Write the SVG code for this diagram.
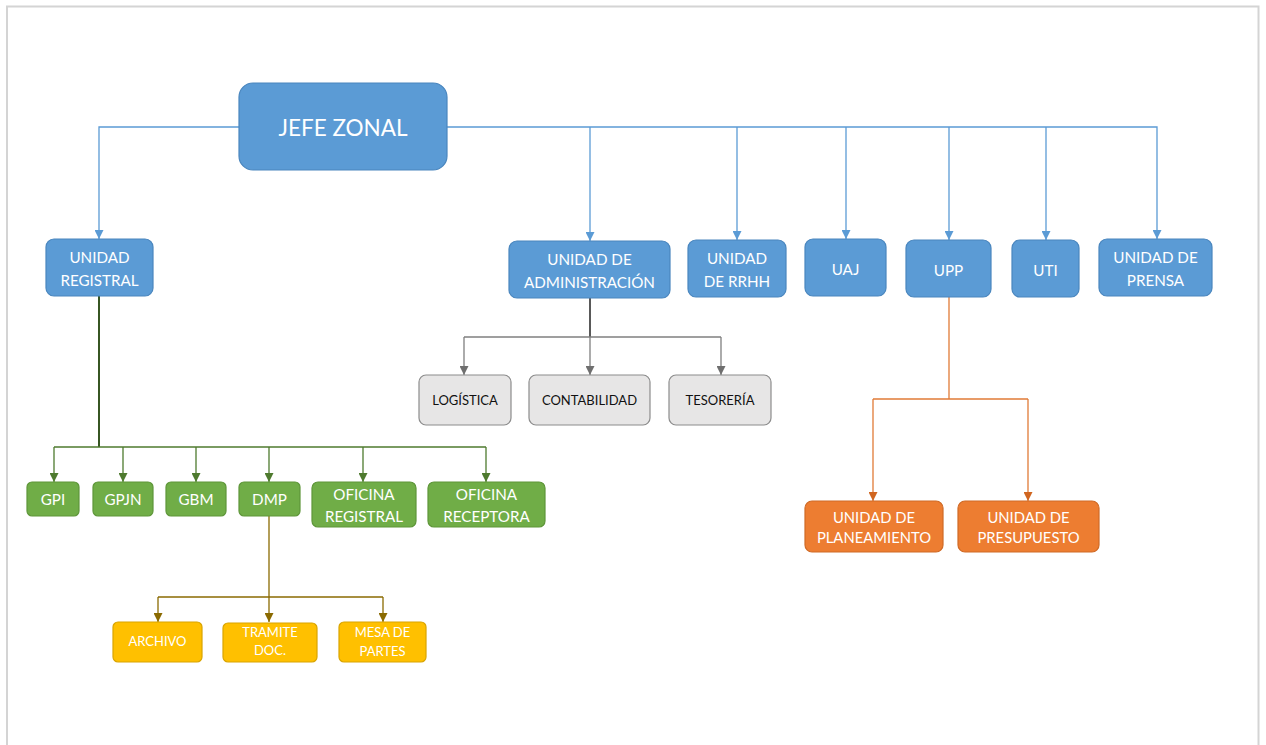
<svg xmlns="http://www.w3.org/2000/svg" width="1266" height="745" viewBox="0 0 1266 745">
<style>
text{font-family:Lato,"Open Sans","Liberation Sans",sans-serif;text-anchor:middle}
.blue{fill:#5B9BD5;stroke:#4A86BE;stroke-width:1.2}
.green{fill:#70AD47;stroke:#5E9639;stroke-width:1.2}
.yellow{fill:#FFC000;stroke:#D9A400;stroke-width:1.2}
.orange{fill:#ED7D31;stroke:#CF6A26;stroke-width:1.2}
.grey{fill:#E7E6E6;stroke:#8C8C8C;stroke-width:1.2}
.tw{fill:#FFFFFF;font-size:15.2px}
.tb{fill:#111111;font-size:13px}
.ty{fill:#FFFFFF;font-size:13px}
.to{fill:#FFFFFF;font-size:14.8px}
.c{fill:none;stroke-width:1.3}
.cb{stroke:#5B9BD5}
.cg{stroke:#4E7A2E}
.cgt{stroke:#375623;stroke-width:2}
.cy{stroke:#8A6A00}
.cgr{stroke:#7F7F7F}
.cgrt{stroke:#595959;stroke-width:2}
.co{stroke:#E07A36}
</style>
<defs>
<marker id="ab" viewBox="0 0 10 10" refX="10" refY="5" markerWidth="9" markerHeight="9" markerUnits="userSpaceOnUse" orient="auto"><path d="M0,0 L10,5 L0,10 z" fill="#5B9BD5"/></marker>
<marker id="ag" viewBox="0 0 10 10" refX="10" refY="5" markerWidth="9" markerHeight="9" markerUnits="userSpaceOnUse" orient="auto"><path d="M0,0 L10,5 L0,10 z" fill="#4E7A2E"/></marker>
<marker id="ay" viewBox="0 0 10 10" refX="10" refY="5" markerWidth="9" markerHeight="9" markerUnits="userSpaceOnUse" orient="auto"><path d="M0,0 L10,5 L0,10 z" fill="#8A6A00"/></marker>
<marker id="agr" viewBox="0 0 10 10" refX="10" refY="5" markerWidth="9" markerHeight="9" markerUnits="userSpaceOnUse" orient="auto"><path d="M0,0 L10,5 L0,10 z" fill="#6F6F6F"/></marker>
<marker id="ao" viewBox="0 0 10 10" refX="10" refY="5" markerWidth="9" markerHeight="9" markerUnits="userSpaceOnUse" orient="auto"><path d="M0,0 L10,5 L0,10 z" fill="#D0651F"/></marker>
</defs>
<rect x="0" y="0" width="1266" height="745" fill="#FFFFFF"/>
<rect x="7" y="6.5" width="1251.5" height="745" fill="none" stroke="#D4D4D4" stroke-width="2"/>

<g id="connectors">
<path class="c cb" d="M239,127 H99 V239" marker-end="url(#ab)"/>
<path class="c cb" d="M447,127 H1157 V239" marker-end="url(#ab)"/>
<path class="c cb" d="M590,127 V241" marker-end="url(#ab)"/>
<path class="c cb" d="M737,127 V240" marker-end="url(#ab)"/>
<path class="c cb" d="M846,127 V239" marker-end="url(#ab)"/>
<path class="c cb" d="M949,127 V240" marker-end="url(#ab)"/>
<path class="c cb" d="M1046,127 V240" marker-end="url(#ab)"/>

<path class="c cgt" d="M99,296 V447"/>
<path class="c cg" d="M54,447 H486"/>
<path class="c cg" d="M54,447 V482" marker-end="url(#ag)"/>
<path class="c cg" d="M123,447 V482" marker-end="url(#ag)"/>
<path class="c cg" d="M196,447 V482" marker-end="url(#ag)"/>
<path class="c cg" d="M269,447 V482" marker-end="url(#ag)"/>
<path class="c cg" d="M363,447 V482" marker-end="url(#ag)"/>
<path class="c cg" d="M486,447 V482" marker-end="url(#ag)"/>

<path class="c cy" d="M269,516 V622" marker-end="url(#ay)"/>
<path class="c cy" d="M158,597 H383"/>
<path class="c cy" d="M158,597 V622" marker-end="url(#ay)"/>
<path class="c cy" d="M383,597 V622" marker-end="url(#ay)"/>

<path class="c cgrt" d="M590,298 V337"/>
<path class="c cgr" d="M590,337 V375" marker-end="url(#agr)"/>
<path class="c cgr" d="M464,337 H721"/>
<path class="c cgr" d="M464,337 V375" marker-end="url(#agr)"/>
<path class="c cgr" d="M721,337 V375" marker-end="url(#agr)"/>

<path class="c co" d="M949,297 V399"/>
<path class="c co" d="M873,399 H1028"/>
<path class="c co" d="M873,399 V501" marker-end="url(#ao)"/>
<path class="c co" d="M1028,399 V501" marker-end="url(#ao)"/>
</g>

<g id="jefe-zonal"><rect class="blue" x="239" y="83" width="208" height="87" rx="14"/><text class="tw" x="343" y="136" style="font-size:22.5px">JEFE ZONAL</text></g>

<g id="unidad-registral"><rect class="blue" x="46" y="239" width="107" height="57" rx="8"/><text class="tw" x="99.5" y="263">UNIDAD</text><text class="tw" x="99.5" y="286">REGISTRAL</text></g>
<g id="unidad-administracion"><rect class="blue" x="509" y="241" width="161" height="57" rx="8"/><text class="tw" x="589.5" y="265">UNIDAD DE</text><text class="tw" x="589.5" y="288">ADMINISTRACIÓN</text></g>
<g id="unidad-rrhh"><rect class="blue" x="688" y="240" width="98" height="57" rx="8"/><text class="tw" x="737" y="264">UNIDAD</text><text class="tw" x="737" y="287">DE RRHH</text></g>
<g id="uaj"><rect class="blue" x="805" y="239" width="81" height="57" rx="8"/><text class="tw" x="845.5" y="275">UAJ</text></g>
<g id="upp"><rect class="blue" x="906" y="240" width="85" height="57" rx="8"/><text class="tw" x="948.5" y="276">UPP</text></g>
<g id="uti"><rect class="blue" x="1012" y="240" width="67" height="57" rx="8"/><text class="tw" x="1045.5" y="276">UTI</text></g>
<g id="unidad-prensa"><rect class="blue" x="1099" y="239" width="113" height="57" rx="8"/><text class="tw" x="1155.5" y="263">UNIDAD DE</text><text class="tw" x="1155.5" y="286">PRENSA</text></g>

<g id="logistica"><rect class="grey" x="419" y="375" width="92" height="50" rx="7"/><text class="tb" x="465" y="405">LOGÍSTICA</text></g>
<g id="contabilidad"><rect class="grey" x="529" y="375" width="121" height="50" rx="7"/><text class="tb" x="589.5" y="405">CONTABILIDAD</text></g>
<g id="tesoreria"><rect class="grey" x="669" y="375" width="102" height="50" rx="7"/><text class="tb" x="720" y="405">TESORERÍA</text></g>

<g id="gpi"><rect class="green" x="27" y="482" width="52" height="34" rx="5"/><text class="tw" x="53" y="505">GPI</text></g>
<g id="gpjn"><rect class="green" x="93" y="482" width="60" height="34" rx="5"/><text class="tw" x="123" y="505">GPJN</text></g>
<g id="gbm"><rect class="green" x="166" y="482" width="60" height="34" rx="5"/><text class="tw" x="196" y="505">GBM</text></g>
<g id="dmp"><rect class="green" x="239" y="482" width="61" height="34" rx="5"/><text class="tw" x="269.5" y="505">DMP</text></g>
<g id="oficina-registral"><rect class="green" x="312" y="482" width="104" height="45" rx="6"/><text class="tw" x="364" y="500">OFICINA</text><text class="tw" x="364" y="522">REGISTRAL</text></g>
<g id="oficina-receptora"><rect class="green" x="428" y="482" width="117" height="45" rx="6"/><text class="tw" x="486.5" y="500">OFICINA</text><text class="tw" x="486.5" y="522">RECEPTORA</text></g>

<g id="archivo"><rect class="yellow" x="113" y="622" width="89" height="40" rx="5"/><text class="ty" x="157.5" y="646">ARCHIVO</text></g>
<g id="tramite-doc"><rect class="yellow" x="223" y="623" width="94" height="39" rx="5"/><text class="ty" x="270" y="637">TRAMITE</text><text class="ty" x="270" y="655">DOC.</text></g>
<g id="mesa-de-partes"><rect class="yellow" x="339" y="622" width="87" height="40" rx="5"/><text class="ty" x="382.5" y="637">MESA DE</text><text class="ty" x="382.5" y="656">PARTES</text></g>

<g id="unidad-planeamiento"><rect class="orange" x="805" y="501" width="138" height="51" rx="7"/><text class="to" x="874" y="523">UNIDAD DE</text><text class="to" x="874" y="543">PLANEAMIENTO</text></g>
<g id="unidad-presupuesto"><rect class="orange" x="958" y="501" width="141" height="51" rx="7"/><text class="to" x="1028.5" y="523">UNIDAD DE</text><text class="to" x="1028.5" y="543">PRESUPUESTO</text></g>
</svg>
